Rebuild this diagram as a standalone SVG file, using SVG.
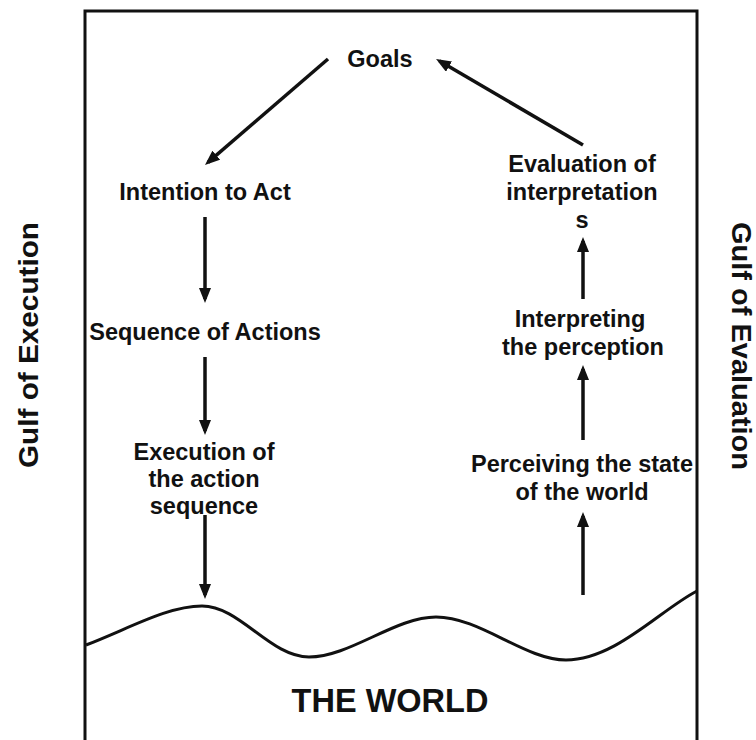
<svg xmlns="http://www.w3.org/2000/svg" width="756" height="740" viewBox="0 0 756 740">
  <style>
    .lbl { font-family: "Liberation Sans", Arial, sans-serif; font-weight: bold; font-size: 23.5px; fill: #111; text-anchor: middle; }
    .gulf { font-family: "Liberation Sans", Arial, sans-serif; font-weight: bold; font-size: 28px; fill: #111; text-anchor: middle; }
    .world { font-family: "Liberation Sans", Arial, sans-serif; font-weight: bold; font-size: 32.5px; fill: #111; text-anchor: middle; }
    .conn { stroke: #111; stroke-width: 3.5; fill: none; marker-end: url(#ah); }
    .frame { stroke: #111; stroke-width: 3; fill: none; }
  </style>
  <defs>
    <marker id="ah" markerUnits="userSpaceOnUse" viewBox="0 0 15 12" markerWidth="15" markerHeight="12" refX="11" refY="6" orient="auto">
      <path d="M0,0 L15,6 L0,12 z" fill="#111"/>
    </marker>
  </defs>
  <rect width="756" height="740" fill="#fff"/>

  <g id="frame">
    <path class="frame" d="M85,745 V11 H697 V745"/>
    <path class="frame" d="M86,645 C130,628 168,606 202,606 C240,606 270,657 309,657 C350,657 395,617 436,617 C480,617 525,660 566,660 C615,660 660,610 697,591"/>
  </g>

  <g id="gulf-execution">
    <text class="gulf" transform="translate(38,345) rotate(-90)" textLength="246" lengthAdjust="spacingAndGlyphs">Gulf of Execution</text>
  </g>
  <g id="gulf-evaluation">
    <text class="gulf" transform="translate(732,346) rotate(90)" textLength="248" lengthAdjust="spacingAndGlyphs">Gulf of Evaluation</text>
  </g>

  <g id="goals"><text class="lbl" x="380" y="67">Goals</text></g>
  <g id="intention"><text class="lbl" x="205" y="200">Intention to Act</text></g>
  <g id="sequence"><text class="lbl" x="205" y="340">Sequence of Actions</text></g>
  <g id="execution">
    <text class="lbl" x="204" y="460">Execution of</text>
    <text class="lbl" x="204" y="487">the action</text>
    <text class="lbl" x="204" y="514">sequence</text>
  </g>
  <g id="evaluation">
    <text class="lbl" x="582" y="172">Evaluation of</text>
    <text class="lbl" x="582" y="200">interpretation</text>
    <text class="lbl" x="582" y="228">s</text>
  </g>
  <g id="interpreting">
    <text class="lbl" x="580" y="327">Interpreting</text>
    <text class="lbl" x="583" y="355">the perception</text>
  </g>
  <g id="perceiving">
    <text class="lbl" x="582" y="472">Perceiving the state</text>
    <text class="lbl" x="582" y="500">of the world</text>
  </g>
  <g id="the-world"><text class="world" x="390" y="712">THE WORLD</text></g>

  <g id="connectors">
    <line class="conn" x1="328" y1="59" x2="208" y2="162.4"/>
    <line class="conn" x1="583" y1="145" x2="439.5" y2="61"/>
    <line class="conn" x1="205" y1="217" x2="205" y2="299"/>
    <line class="conn" x1="205" y1="357" x2="205" y2="431"/>
    <line class="conn" x1="205" y1="515" x2="205" y2="595"/>
    <line class="conn" x1="583" y1="595" x2="583" y2="516"/>
    <line class="conn" x1="583" y1="440" x2="583" y2="369"/>
    <line class="conn" x1="583" y1="299" x2="583" y2="241"/>
  </g>
</svg>
